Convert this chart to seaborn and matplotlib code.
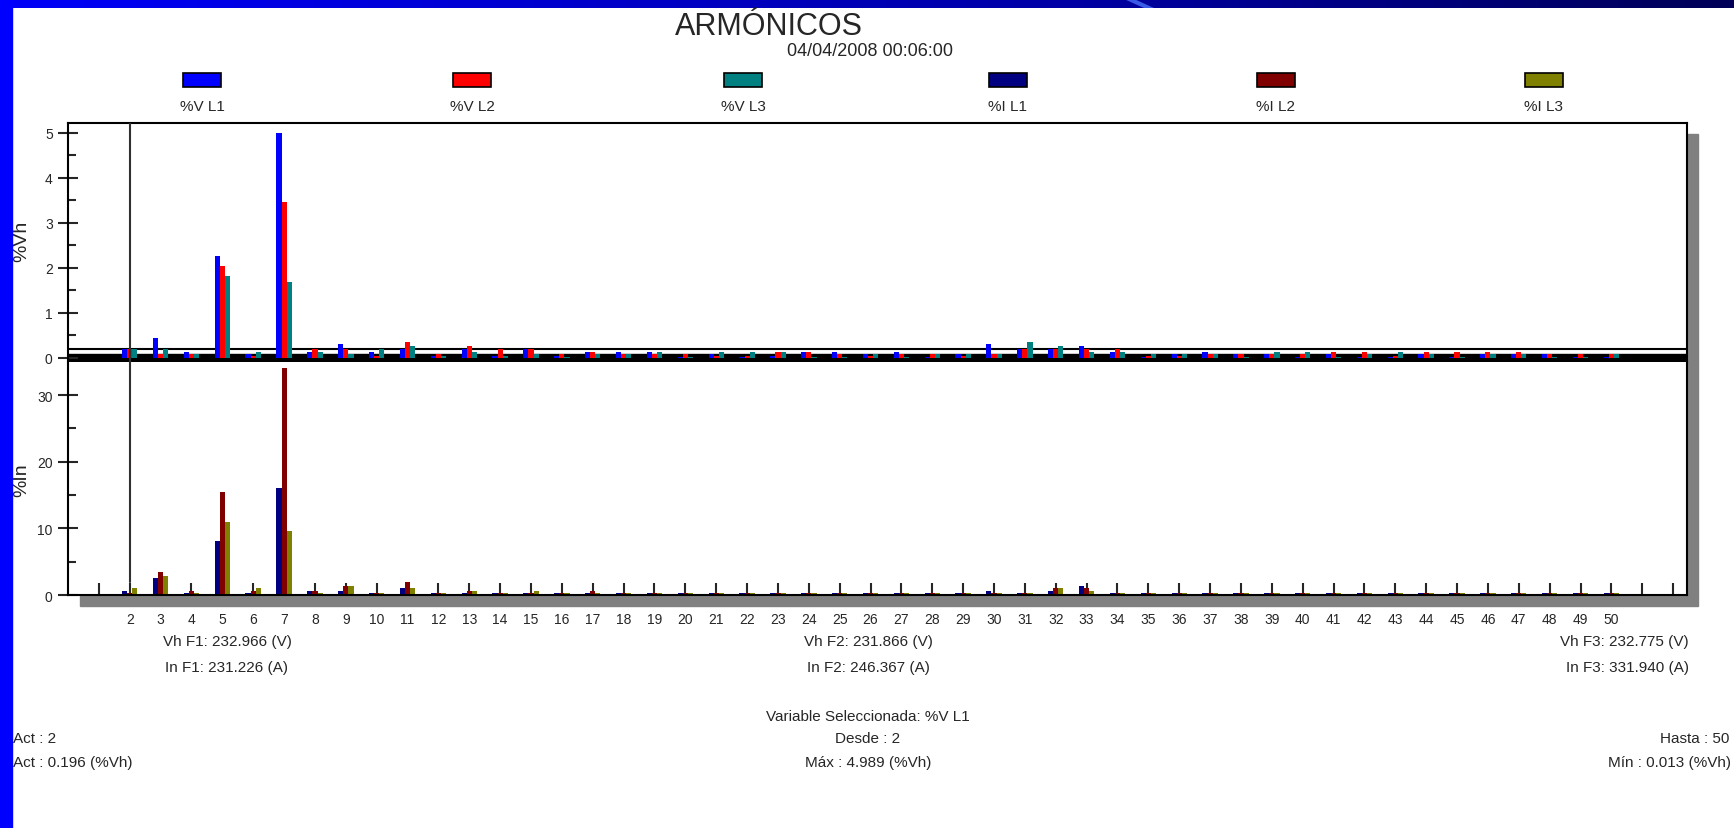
import numpy as np
import pandas as pd
import seaborn as sns
import matplotlib.pyplot as plt
from matplotlib.patches import Rectangle, Polygon
from matplotlib.colors import LinearSegmentedColormap
from matplotlib.ticker import MultipleLocator

## data (harmonics 2..50)
harmonics = list(range(2, 51))

v_l1 = [0.196, 0.44, 0.13, 2.26, 0.08, 4.989, 0.13, 0.30, 0.13, 0.20,
        0.04, 0.20, 0.04, 0.20, 0.04, 0.13, 0.13, 0.13, 0.03, 0.08,
        0.03, 0.04, 0.13, 0.13, 0.08, 0.13, 0.03, 0.08, 0.30, 0.20,
        0.20, 0.26, 0.13, 0.03, 0.08, 0.13, 0.08, 0.08, 0.03, 0.08,
        0.03, 0.013, 0.08, 0.03, 0.08, 0.08, 0.08, 0.03, 0.03]
v_l2 = [0.21, 0.09, 0.08, 2.04, 0.04, 3.46, 0.20, 0.20, 0.04, 0.35,
        0.08, 0.26, 0.20, 0.20, 0.08, 0.13, 0.08, 0.08, 0.08, 0.04,
        0.04, 0.13, 0.13, 0.08, 0.04, 0.08, 0.08, 0.04, 0.08, 0.20,
        0.20, 0.20, 0.19, 0.04, 0.04, 0.08, 0.08, 0.08, 0.08, 0.13,
        0.13, 0.04, 0.13, 0.13, 0.13, 0.13, 0.08, 0.08, 0.08]
v_l3 = [0.19, 0.20, 0.08, 1.82, 0.13, 1.68, 0.13, 0.08, 0.20, 0.26,
        0.04, 0.13, 0.04, 0.08, 0.03, 0.08, 0.08, 0.13, 0.03, 0.13,
        0.13, 0.13, 0.03, 0.03, 0.08, 0.03, 0.08, 0.08, 0.08, 0.35,
        0.26, 0.13, 0.13, 0.08, 0.08, 0.08, 0.03, 0.13, 0.13, 0.03,
        0.08, 0.13, 0.08, 0.03, 0.08, 0.08, 0.03, 0.03, 0.08]

i_l1 = [0.65, 2.5, 0.3, 8.15, 0.3, 16.0, 0.65, 0.65, 0.3, 1.0,
        0.3, 0.3, 0.3, 0.3, 0.3, 0.3, 0.3, 0.3, 0.3, 0.3,
        0.3, 0.3, 0.3, 0.3, 0.3, 0.3, 0.3, 0.3, 0.65, 0.3,
        0.6, 1.3, 0.3, 0.3, 0.3, 0.3, 0.3, 0.3, 0.3, 0.3,
        0.3, 0.3, 0.3, 0.3, 0.3, 0.3, 0.3, 0.3, 0.3]
i_l2 = [0.3, 3.4, 0.65, 15.4, 0.65, 34.0, 0.65, 1.3, 0.3, 1.9,
        0.3, 0.65, 0.3, 0.3, 0.3, 0.65, 0.3, 0.3, 0.3, 0.3,
        0.3, 0.3, 0.3, 0.3, 0.3, 0.3, 0.3, 0.3, 0.3, 0.3,
        1.1, 1.0, 0.3, 0.3, 0.3, 0.3, 0.3, 0.3, 0.3, 0.3,
        0.3, 0.3, 0.3, 0.3, 0.3, 0.3, 0.3, 0.3, 0.3]
i_l3 = [1.0, 2.8, 0.3, 10.9, 1.0, 9.65, 0.3, 1.3, 0.3, 1.0,
        0.3, 0.65, 0.3, 0.65, 0.3, 0.3, 0.3, 0.3, 0.3, 0.3,
        0.3, 0.3, 0.3, 0.3, 0.3, 0.3, 0.3, 0.3, 0.3, 0.3,
        1.0, 0.65, 0.3, 0.3, 0.3, 0.3, 0.3, 0.3, 0.3, 0.3,
        0.3, 0.3, 0.3, 0.3, 0.3, 0.3, 0.3, 0.3, 0.3]

v_names = ['%V L1', '%V L2', '%V L3']
i_names = ['%I L1', '%I L2', '%I L3']
v_colors = ['#0000ff', '#ff0000', '#008080']
i_colors = ['#000080', '#800000', '#808000']

# long format tables for seaborn
df_v = pd.DataFrame({'harmonic': harmonics * 3,
                     'value': v_l1 + v_l2 + v_l3,
                     'serie': [n for n in v_names for _ in harmonics]})
df_i = pd.DataFrame({'harmonic': harmonics * 3,
                     'value': i_l1 + i_l2 + i_l3,
                     'serie': [n for n in i_names for _ in harmonics]})

sns.set_style('white')
plt.rcParams['font.family'] = ['Liberation Sans', 'DejaVu Sans']

W, H = 1734, 829
fig = plt.figure(figsize=(W / 100, H / 100), dpi=100)


def fx(px):
    return px / W


def fy(py):
    return 1 - py / H


def box(x0, y0, x1, y1):
    return [x0 / W, 1 - y1 / H, (x1 - x0) / W, (y1 - y0) / H]


## blue window frame
fig.add_artist(Rectangle((0, 0), fx(12), 1, transform=fig.transFigure,
                         color='#0000ff', zorder=5))
ax_bar = fig.add_axes(box(0, 0, W, 9))
frame_cmap = LinearSegmentedColormap.from_list(
    'frame', [(0, '#0000f8'), (0.6, '#0000a8'), (1, '#000058')])
ax_bar.imshow(np.linspace(0, 1, 600)[None, :], aspect='auto', cmap=frame_cmap,
              extent=(0, W, 9, 0))
# light diagonal streak in the title bar
ax_bar.add_patch(Polygon([(1124, 0), (1134, 0), (1154, 9), (1144, 9)],
                         closed=True, color='#3a5ae6', lw=0))
ax_bar.set_xlim(0, W)
ax_bar.set_ylim(9, 0)
ax_bar.axis('off')

## shadow behind the chart box
fig.add_artist(Rectangle((fx(80), fy(607)), fx(1698) - fx(80), fy(135) - fy(607),
                         transform=fig.transFigure, color='#808080', zorder=-1))

ax_u = fig.add_axes(box(68, 124, 1687, 363))
ax_l = fig.add_axes(box(68, 363, 1687, 596))

# bands / reference line of the upper panel
ax_u.axhspan(-0.09, 0.09, color='black', zorder=0.5)
ax_u.axhline(0.2, color='black', lw=1.5, zorder=0.6)

sns.barplot(data=df_v, x='harmonic', y='value', hue='serie', hue_order=v_names,
            palette=v_colors, native_scale=True, width=0.5, gap=0, errorbar=None,
            saturation=1, linewidth=0, legend=False, ax=ax_u)
sns.barplot(data=df_i, x='harmonic', y='value', hue='serie', hue_order=i_names,
            palette=i_colors, native_scale=True, width=0.5, gap=0, errorbar=None,
            saturation=1, linewidth=0, legend=False, ax=ax_l)

for ax in (ax_u, ax_l):
    ax.set_xlim(0, 52.45)
    ax.set_xlabel('')
    ax.set_ylabel('')
    for s in ax.spines.values():
        s.set_color('black')
        s.set_linewidth(1.5)
    ax.tick_params(axis='y', which='major', direction='inout', length=14, width=1.5,
                   labelsize=10, pad=4, left=True)
    ax.tick_params(axis='y', which='minor', direction='in', length=6, width=1.5, left=True)

ax_u.spines['bottom'].set_visible(False)
ax_l.spines['top'].set_visible(False)

ax_u.set_ylim(-0.089, 5.222)
ax_u.set_yticks(range(0, 6))
ax_u.yaxis.set_minor_locator(MultipleLocator(0.5))
ax_u.tick_params(axis='x', length=0, labelbottom=False)

ax_l.set_ylim(0, 34.95)
ax_l.set_yticks([0, 10, 20, 30])
ax_l.yaxis.set_minor_locator(MultipleLocator(5))
ax_l.set_xticks(range(1, 53))
ax_l.set_xticklabels(['' if h < 2 or h > 50 else str(h) for h in range(1, 53)])
ax_l.tick_params(axis='x', direction='in', length=9, width=1.5, pad=12,
                 labelsize=10, bottom=True)

# selection cursor at harmonic 2
ax_u.axvline(2, color='#303030', lw=1.5, zorder=4)
ax_l.axvline(2, ymin=1.95 / 34.95, ymax=1, color='#303030', lw=1.5, zorder=4)

## header
fig.text(fx(769), fy(35), 'ARMÓNICOS', ha='center', va='baseline', fontsize=22)
fig.text(fx(870), fy(51), '04/04/2008 00:06:00', ha='center', va='center', fontsize=13)

legend_x = [202, 472, 743, 1008, 1276, 1544]
for x, name, col in zip(legend_x, v_names + i_names, v_colors + i_colors):
    fig.add_artist(Rectangle((fx(x - 19), fy(88)), fx(38), fy(74) - fy(88),
                             transform=fig.transFigure, facecolor=col,
                             edgecolor='black', lw=1.2))
    fig.text(fx(x), fy(107), name, ha='center', va='center', fontsize=11)

fig.text(fx(22), fy(241), '%Vh', rotation=90, ha='center', va='center', fontsize=14)
fig.text(fx(22), fy(480), '%In', rotation=90, ha='center', va='center', fontsize=14)

## footer
fs = 11
fig.text(fx(227), fy(642), 'Vh F1: 232.966 (V)', ha='center', va='center', fontsize=fs)
fig.text(fx(227), fy(668), 'In F1: 231.226 (A)', ha='center', va='center', fontsize=fs)
fig.text(fx(868), fy(642), 'Vh F2: 231.866 (V)', ha='center', va='center', fontsize=fs)
fig.text(fx(868), fy(668), 'In F2: 246.367 (A)', ha='center', va='center', fontsize=fs)
fig.text(fx(1689), fy(642), 'Vh F3: 232.775 (V)', ha='right', va='center', fontsize=fs)
fig.text(fx(1689), fy(668), 'In F3: 331.940 (A)', ha='right', va='center', fontsize=fs)

fig.text(fx(868), fy(717), 'Variable Seleccionada: %V L1', ha='center', va='center', fontsize=fs)
fig.text(fx(13), fy(739), 'Act : 2', ha='left', va='center', fontsize=fs)
fig.text(fx(13), fy(763), 'Act : 0.196 (%Vh)', ha='left', va='center', fontsize=fs)
fig.text(fx(868), fy(739), 'Desde : 2', ha='center', va='center', fontsize=fs)
fig.text(fx(868), fy(763), 'Máx : 4.989 (%Vh)', ha='center', va='center', fontsize=fs)
fig.text(fx(1729), fy(739), 'Hasta : 50', ha='right', va='center', fontsize=fs)
fig.text(fx(1731), fy(763), 'Mín : 0.013 (%Vh)', ha='right', va='center', fontsize=fs)

fig.savefig('out.png', dpi=100, facecolor='white')
